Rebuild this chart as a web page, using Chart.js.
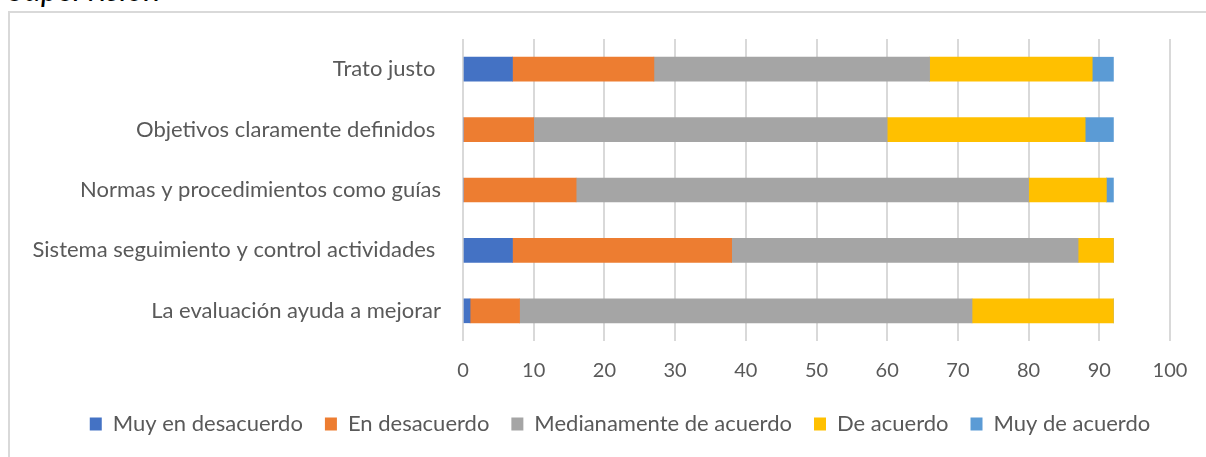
<!DOCTYPE html>
<html>
<head>
<meta charset="utf-8">
<script src="https://cdn.jsdelivr.net/npm/chart.js@4.4.1/dist/chart.umd.min.js"></script>
<style>
    html, body { margin: 0; padding: 0; background: #fff; overflow: hidden; }
    #wrap { position: relative; width: 1206px; height: 457px; overflow: hidden; }
    #marco { position: absolute; left: 8px; top: 11px; width: 1400px; height: 600px; border: 2px solid #d9d9d9; box-sizing: border-box; }
    #titulo { position: absolute; left: 8px; top: -31px; font: italic 32px Lato, sans-serif; color: #000; white-space: nowrap; }
    #grafico { position: absolute; left: 0; top: 0; }
</style>
</head>
<body>
<div id="wrap">
    <div id="marco"></div>
    <div id="titulo">Supervisión</div>
    <canvas id="grafico" width="1240" height="457"></canvas>
</div>
<script>
// categorias (de arriba hacia abajo)
var categorias = [
    'Trato justo ',
    'Objetivos claramente definidos ',
    'Normas y procedimientos como guías',
    'Sistema seguimiento y control actividades ',
    'La evaluación ayuda a mejorar'
];

var muyEnDesacuerdo = [7, 0, 0, 7, 1];
var enDesacuerdo = [20, 10, 16, 31, 7];
var medianamente = [39, 50, 64, 49, 64];
var deAcuerdo = [23, 28, 11, 5, 20];
var muyDeAcuerdo = [3, 4, 1, 0, 0];

var ticksX = [0, 10, 20, 30, 40, 50, 60, 70, 80, 90, 100];

var fuente = 'Lato, sans-serif';
var gris = '#595959';

function serie(nombre, datos, color) {
    return {
        label: nombre,
        data: datos,
        backgroundColor: color,
        borderWidth: 0,
        barThickness: 24
    };
}

var ctx = document.getElementById('grafico').getContext('2d');
var chart = new Chart(ctx, {
    type: 'bar',
    data: {
        labels: categorias,
        datasets: [
            serie('Muy en desacuerdo', muyEnDesacuerdo, '#4472C4'),
            serie('En desacuerdo', enDesacuerdo, '#ED7D31'),
            serie('Medianamente de acuerdo', medianamente, '#A5A5A5'),
            serie('De acuerdo', deAcuerdo, '#FFC000'),
            serie('Muy de acuerdo', muyDeAcuerdo, '#5B9BD5')
        ]
    },
    options: {
        responsive: false,
        animation: false,
        indexAxis: 'y',
        layout: {
            padding: { top: 39, left: 0, right: 0, bottom: 12 }
        },
        scales: {
            x: {
                stacked: true,
                min: ticksX[0],
                max: ticksX[ticksX.length - 1],
                afterBuildTicks: function (scale) {
                    scale.ticks = ticksX.map(function (v) { return { value: v }; });
                },
                afterFit: function (scale) { scale.height = 50; },
                grid: { color: '#d9d9d9', lineWidth: 2, drawTicks: false },
                border: { display: false },
                ticks: { color: gris, font: { family: fuente, size: 20 }, padding: 18 }
            },
            y: {
                stacked: true,
                afterFit: function (scale) { scale.width = 463; },
                grid: { display: false, drawTicks: false },
                border: { display: false },
                ticks: { color: gris, font: { family: fuente, size: 22 }, padding: 22 }
            },
            derecha: {
                axis: 'y',
                type: 'linear',
                position: 'right',
                afterFit: function (scale) { scale.width = 70; },
                grid: { display: false, drawTicks: false },
                border: { display: false },
                ticks: { display: false }
            }
        },
        plugins: {
            tooltip: { enabled: false },
            legend: {
                position: 'bottom',
                labels: {
                    color: gris,
                    font: { family: fuente, size: 22 },
                    boxWidth: 12,
                    boxHeight: 13,
                    padding: 22
                }
            }
        }
    }
});
</script>
</body>
</html>
